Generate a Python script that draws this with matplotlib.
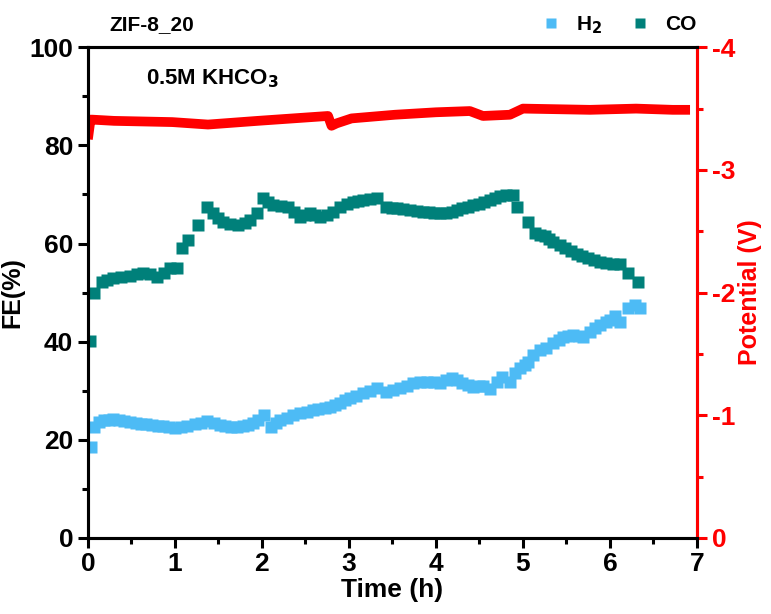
import numpy as np
import matplotlib
matplotlib.use('Agg')
import matplotlib.pyplot as plt
from matplotlib.ticker import MultipleLocator

plt.rcParams['font.family'] = ['Liberation Sans', 'DejaVu Sans']
plt.rcParams['font.weight'] = 'bold'
plt.rcParams['axes.unicode_minus'] = False

# FE data (time in h, FE in %)
co_t = [0.02, 0.07, 0.16, 0.22, 0.29, 0.38, 0.48, 0.56, 0.63, 0.71, 0.79, 0.87, 0.94,
        1.02, 1.08, 1.15, 1.26, 1.37, 1.44, 1.50, 1.55, 1.63, 1.72, 1.80, 1.86, 1.94,
        2.01, 2.07, 2.13, 2.22, 2.30, 2.37, 2.44, 2.50, 2.55, 2.61, 2.67, 2.75, 2.82,
        2.90, 2.98, 3.05, 3.10, 3.16, 3.24, 3.32, 3.43, 3.49, 3.55, 3.62, 3.70, 3.78,
        3.85, 3.92, 3.98, 4.05, 4.12, 4.18, 4.24, 4.30, 4.37, 4.43, 4.49, 4.55, 4.62,
        4.68, 4.74, 4.80, 4.88, 4.93, 5.06, 5.14, 5.20, 5.25, 5.30, 5.35, 5.42, 5.48,
        5.55, 5.62, 5.68, 5.75, 5.82, 5.89, 5.96, 6.03, 6.11, 6.21, 6.32]
co_fe = [40.1, 49.9, 52.1, 52.6, 53.0, 53.2, 53.4, 53.7, 54.0, 53.8, 53.2, 54.0, 55.0,
         55.0, 59.0, 60.7, 63.7, 67.4, 66.2, 65.3, 64.4, 64.0, 63.7, 64.2, 64.8, 66.2,
         69.2, 68.5, 67.8, 67.6, 67.4, 66.4, 65.4, 65.8, 66.2, 65.8, 65.4, 65.9, 66.4,
         67.4, 68.0, 68.4, 68.6, 68.8, 69.0, 69.2, 67.4, 67.3, 67.2, 67.0, 66.8, 66.7,
         66.5, 66.4, 66.3, 66.2, 66.3, 66.5, 66.8, 67.2, 67.5, 67.8, 68.1, 68.5, 68.9,
         69.2, 69.6, 69.9, 69.8, 67.4, 64.4, 62.1, 61.8, 61.5, 60.9, 60.3, 59.6, 59.0,
         58.4, 57.8, 57.4, 57.0, 56.6, 56.2, 56.0, 55.8, 55.8, 54.0, 52.1]

h2_t = [0.03, 0.07, 0.13, 0.18, 0.24, 0.29, 0.36, 0.42, 0.48, 0.55, 0.61, 0.67, 0.74,
        0.80, 0.86, 0.93, 1.00, 1.07, 1.14, 1.23, 1.30, 1.37, 1.45, 1.52, 1.58, 1.65,
        1.71, 1.78, 1.84, 1.90, 1.96, 2.02, 2.10, 2.16, 2.21, 2.29, 2.36, 2.44, 2.52,
        2.59, 2.65, 2.72, 2.78, 2.84, 2.90, 2.96, 3.01, 3.08, 3.16, 3.24, 3.32, 3.43,
        3.51, 3.59, 3.67, 3.74, 3.82, 3.90, 3.98, 4.05, 4.11, 4.18, 4.24, 4.30, 4.37,
        4.43, 4.49, 4.54, 4.62, 4.70, 4.76, 4.85, 4.91, 4.97, 5.02, 5.06, 5.12, 5.20,
        5.27, 5.35, 5.41, 5.46, 5.52, 5.58, 5.64, 5.69, 5.77, 5.83, 5.89, 5.95, 6.00,
        6.06, 6.12, 6.21, 6.29, 6.35]
h2_fe = [18.5, 22.6, 23.6, 24.0, 24.1, 24.2, 24.0, 23.8, 23.6, 23.4, 23.3, 23.2, 23.0,
         22.9, 22.8, 22.6, 22.4, 22.6, 22.8, 23.2, 23.5, 23.8, 23.4, 23.0, 22.8, 22.7,
         22.6, 22.8, 23.1, 23.4, 24.0, 25.0, 22.6, 23.4, 24.0, 24.5, 25.0, 25.4, 25.7,
         26.0, 26.2, 26.5, 26.7, 27.1, 27.5, 28.0, 28.5, 29.0, 29.5, 30.0, 30.5, 29.7,
         30.1, 30.5, 31.0, 31.6, 31.7, 31.8, 31.7, 31.6, 32.1, 32.6, 32.1, 31.6, 31.2,
         30.8, 30.9, 31.0, 30.3, 31.8, 32.8, 31.8, 33.6, 34.6, 35.2, 35.8, 37.3, 38.3,
         38.7, 39.7, 40.4, 41.0, 41.2, 41.3, 41.1, 41.0, 42.0, 42.7, 43.4, 43.9, 44.4,
         45.2, 44.0, 46.8, 47.5, 46.8]

# potential (V)
pot_t = [0.00, 0.03, 0.05, 0.30, 0.97, 1.38, 1.95, 2.76, 2.80, 2.86, 3.03, 3.53, 4.00,
         4.39, 4.54, 4.85, 5.00, 5.77, 6.30, 6.72, 6.92]
pot_v = [-3.25, -3.41, -3.41, -3.40, -3.39, -3.37, -3.40, -3.44, -3.36, -3.38, -3.42,
         -3.45, -3.47, -3.48, -3.44, -3.45, -3.50, -3.49, -3.50, -3.49, -3.49]

fig, ax = plt.subplots(figsize=(7.71, 6.14), dpi=100)
fig.subplots_adjust(left=0.114, right=0.904, bottom=0.124, top=0.923)

ax.plot(h2_t, h2_fe, 's', color='#4DBBF5', ms=8.5, mec='none', label='H$_\\mathbf{2}$')
ax.plot(co_t, co_fe, 's', color='#00807A', ms=8.5, mec='none', label='CO')

ax.set_xlim(0, 7)
ax.set_ylim(0, 100)
ax.xaxis.set_major_locator(MultipleLocator(1))
ax.xaxis.set_minor_locator(MultipleLocator(0.5))
ax.yaxis.set_major_locator(MultipleLocator(20))
ax.yaxis.set_minor_locator(MultipleLocator(10))
ax.tick_params(which='major', direction='out', length=7, width=2.2, labelsize=19)
ax.tick_params(which='minor', direction='out', length=4, width=2.2)
for s in ax.spines.values():
    s.set_linewidth(2.2)
ax.set_xlabel('Time (h)', fontsize=19, fontweight='bold', labelpad=1)
ax.set_ylabel('FE(%)', fontsize=18, fontweight='bold', labelpad=4)

ax.text(0.035, 1.035, 'ZIF-8_20', transform=ax.transAxes, fontsize=15, fontweight='bold')
ax.text(0.095, 0.925, '0.5M KHCO$_\\mathbf{3}$', transform=ax.transAxes, fontsize=16,
        fontweight='bold')
ax.legend(loc='lower right', bbox_to_anchor=(1.03, 0.985), ncol=2, frameon=False,
          fontsize=15, handletextpad=0.6, columnspacing=1.2, markerscale=0.85,
          handlelength=1.2)

ax2 = ax.twinx()
ax2.plot(pot_t, pot_v, '-', color='#FF0000', lw=7, solid_capstyle='butt')
ax2.set_ylim(0, -4)
ax2.yaxis.set_major_locator(MultipleLocator(1))
ax2.yaxis.set_minor_locator(MultipleLocator(0.5))
ax2.tick_params(which='major', direction='out', length=7, width=2.2, labelsize=19,
                colors='#FF0000')
ax2.tick_params(which='minor', direction='out', length=4, width=2.2, colors='#FF0000')
for s in ax2.spines.values():
    s.set_linewidth(2.2)
ax2.spines['right'].set_color('#FF0000')
ax2.set_ylabel('Potential (V)', fontsize=18, fontweight='bold', color='#FF0000',
               labelpad=2)

fig.savefig('out.png', dpi=100)
